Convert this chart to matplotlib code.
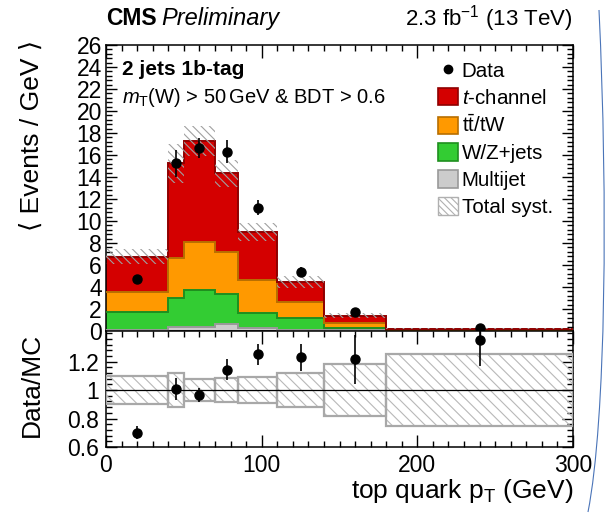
import numpy as np
import matplotlib
matplotlib.use("Agg")
import matplotlib.pyplot as plt
from matplotlib.patches import Patch
from matplotlib.lines import Line2D
from matplotlib.ticker import MultipleLocator, AutoMinorLocator
from matplotlib.path import Path
from matplotlib.patches import PathPatch

plt.rcParams['font.family'] = ['Liberation Sans', 'DejaVu Sans']
plt.rcParams['mathtext.fontset'] = 'custom'
plt.rcParams['mathtext.rm'] = 'Liberation Sans'
plt.rcParams['mathtext.it'] = 'Liberation Sans:italic'
plt.rcParams['mathtext.bf'] = 'Liberation Sans:bold'
plt.rcParams['hatch.linewidth'] = 0.8

# ---- data ----
bin_edges = [0, 40, 50, 70, 85, 110, 140, 180, 300]
multijet = [0.05, 0.33, 0.33, 0.60, 0.30, 0.10, 0.05, 0.00]
wzjets   = [1.71, 2.70, 3.40, 2.76, 1.37, 1.05, 0.25, 0.05]
ttbar_tw = [1.76, 3.57, 4.33, 3.84, 2.97, 1.52, 0.46, 0.07]
tchannel = [3.23, 8.65, 9.21, 7.13, 4.39, 1.75, 0.64, 0.10]
syst_rel = [0.10, 0.117, 0.078, 0.084, 0.092, 0.121, 0.18, 0.25]
data_x   = [20, 45, 60, 77.5, 97.5, 125, 160, 240]
data_y   = [4.73, 15.24, 16.67, 16.3, 11.2, 5.4, 1.7, 0.30]
data_err = [0.35, 1.20, 0.90, 1.06, 0.67, 0.42, 0.21, 0.05]
ratio_y  = [0.70, 1.007, 0.967, 1.143, 1.25, 1.23, 1.215, 1.354]
ratio_err = [0.045, 0.08, 0.05, 0.074, 0.072, 0.095, 0.17, 0.185]

W, H = 605, 517
fig = plt.figure(figsize=(W / 100, H / 100), dpi=100)

def fx(px):
    return px / W

def fy(py):
    return 1 - py / H

axL, axR = 106, 573
ax = fig.add_axes([fx(axL), fy(331), fx(axR - axL), fy(45) - fy(331)])
rax = fig.add_axes([fx(axL), fy(447), fx(axR - axL), fy(331) - fy(447)])

TICK_FS = 16.5
LAB_FS = 19

edges = np.array(bin_edges, dtype=float)
comps = [
    (multijet, '#cccccc', '#999999'),
    (wzjets, '#33cc33', '#1f8f1f'),
    (ttbar_tw, '#ff9900', '#b86e00'),
    (tchannel, '#d40000', '#8f0000'),
]
bottom = np.zeros(len(multijet))
for vals, fc, ec in comps:
    top = bottom + np.array(vals)
    ax.stairs(top, edges, baseline=bottom, fill=True, color=fc, lw=0, zorder=2)
    ax.stairs(top, edges, baseline=None, color=ec, lw=1.4, zorder=3)
    bottom = top
total = bottom
rel = np.array(syst_rel)
widths = np.diff(edges)
ax.bar(edges[:-1], 2 * total * rel, width=widths, bottom=total * (1 - rel),
       align='edge', fill=False, hatch='\\\\\\\\', edgecolor='#a0a0a0', lw=0, zorder=4)

ax.errorbar(data_x, data_y, yerr=data_err, fmt='o', color='black', ms=6.5,
            elinewidth=1.2, capsize=0, zorder=6, clip_on=False)

ax.set_xlim(0, 300)
ax.set_ylim(0, 26)
ax.yaxis.set_major_locator(MultipleLocator(2))
ax.yaxis.set_minor_locator(AutoMinorLocator(5))
ax.xaxis.set_major_locator(MultipleLocator(100))
ax.xaxis.set_minor_locator(MultipleLocator(10))
ax.tick_params(which='both', direction='in', top=True, right=True, bottom=False,
               labelbottom=False, labelsize=TICK_FS, width=1, pad=3)
ax.tick_params(which='major', axis='y', length=8)
ax.tick_params(which='minor', axis='y', length=4)
ax.tick_params(which='major', axis='x', length=9)
ax.tick_params(which='minor', axis='x', length=4.5)
for s in ax.spines.values():
    s.set_linewidth(1.1)

# ratio
rax.bar(edges[:-1], 2 * rel, width=widths, bottom=1 - rel, align='edge',
        fill=False, hatch='\\\\\\', edgecolor='#b8b8b8', lw=0, zorder=2)
rax.bar(edges[:-1], 2 * rel, width=widths, bottom=1 - rel, align='edge',
        fill=False, edgecolor='#a8a8a8', lw=1.6, zorder=3)
rax.axhline(1, color='black', lw=0.9, zorder=4)
rax.errorbar(data_x, ratio_y, yerr=ratio_err, fmt='o', color='black', ms=6.5,
             elinewidth=1.2, capsize=0, zorder=6)
rax.set_xlim(0, 300)
rax.set_ylim(0.6, 1.415)
rax.set_yticks([0.6, 0.8, 1.0, 1.2])
rax.set_yticklabels(['0.6', '0.8', '1', '1.2'])
rax.yaxis.set_minor_locator(MultipleLocator(0.04))
rax.xaxis.set_major_locator(MultipleLocator(100))
rax.xaxis.set_minor_locator(MultipleLocator(10))
rax.tick_params(which='both', direction='in', top=True, right=True,
                labelsize=TICK_FS, width=1, pad=5)
rax.tick_params(which='major', axis='y', length=8)
rax.tick_params(which='minor', axis='y', length=4)
rax.tick_params(which='major', axis='x', length=9)
rax.tick_params(which='minor', axis='x', length=4.5)
for s in rax.spines.values():
    s.set_linewidth(1.1)

# legend
handles = [
    Line2D([], [], marker='o', color='black', ls='none', ms=6),
    Patch(facecolor='#d40000', edgecolor='#8f0000', lw=1.2),
    Patch(facecolor='#ff9900', edgecolor='#b86e00', lw=1.2),
    Patch(facecolor='#33cc33', edgecolor='#1f8f1f', lw=1.2),
    Patch(facecolor='#cccccc', edgecolor='#999999', lw=1.2),
    Patch(facecolor='white', edgecolor='#b0b0b0', hatch='\\\\\\\\\\', lw=1.0),
]
labels = ['Data', '$t$-channel', 't$\\mathrm{\\bar{t}}$/tW', 'W/Z+jets',
          'Multijet', 'Total syst.']
ax.legend(handles, labels, loc='upper left', bbox_to_anchor=(0.711, 0.945),
          frameon=False, fontsize=14.8, borderpad=0, borderaxespad=0,
          handlelength=0.95, handleheight=0.95, handletextpad=0.2,
          labelspacing=0.34)

# texts
ax.text(0.034, 0.913, '2 jets 1b-tag', transform=ax.transAxes, fontsize=15,
        fontweight='bold', va='center', ha='left')
ax.text(0.034, 0.818, '$m_\\mathrm{T}$(W) > 50$\\,$GeV & BDT > 0.6',
        transform=ax.transAxes, fontsize=14.5, va='center', ha='left')

t1 = fig.text(fx(106), fy(25), 'CMS', fontsize=16.5, fontweight='bold',
              ha='left', va='baseline')
fig.canvas.draw()
bb = t1.get_window_extent()
fig.text(bb.x1 / W + 0.007, fy(25), 'Preliminary', fontsize=17,
         fontstyle='italic', ha='left', va='baseline')
fig.text(fx(573), fy(25), '2.3 fb$^{-1}$ (13 TeV)', fontsize=16,
         ha='right', va='baseline')

fig.text(fx(32), fy(40), '⟨ Events / GeV ⟩', rotation=90, fontsize=LAB_FS,
         ha='center', va='top', family=['Liberation Sans', 'DejaVu Sans'])
fig.text(fx(32), fy(333), 'Data/MC', rotation=90, fontsize=LAB_FS,
         ha='center', va='top')
fig.text(fx(573), fy(498), 'top quark p$_\\mathrm{T}$ (GeV)', fontsize=LAB_FS,
         ha='right', va='baseline')

# decorative blue arc at right edge (screenshot artifact)
verts = [(fx(599), fy(10)), (fx(608), fy(200)), (fx(606), fy(420)), (fx(588), fy(512))]
arc = PathPatch(Path(verts, [Path.MOVETO, Path.CURVE4, Path.CURVE4, Path.CURVE4]),
                transform=fig.transFigure, fill=False, edgecolor='#4a74b8', lw=0.8)
fig.patches.append(arc)

fig.savefig('out.png', dpi=100)
